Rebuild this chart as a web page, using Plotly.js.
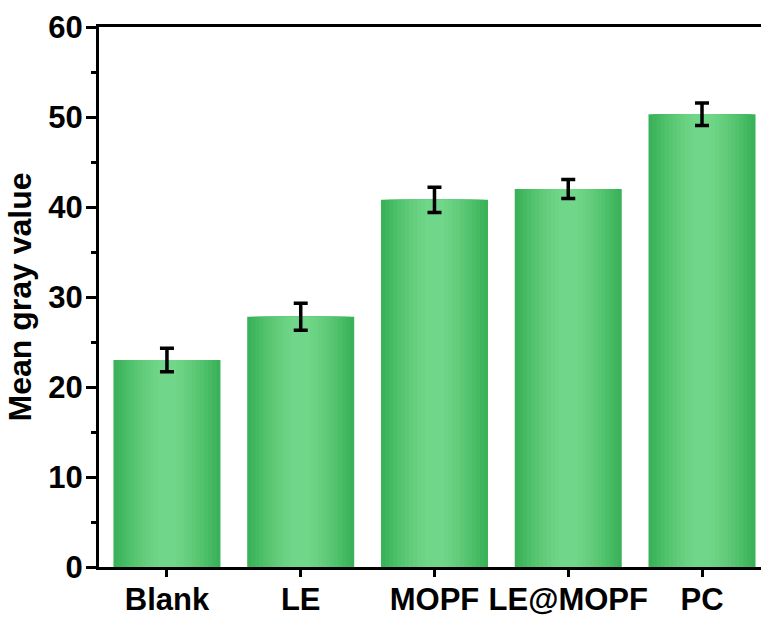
<!DOCTYPE html>
<html>
<head>
<meta charset="utf-8">
<script src="https://cdn.plot.ly/plotly-3.0.1.min.js"></script>
<style>html,body{margin:0;padding:0;background:#fff;overflow:hidden;}</style>
</head>
<body>
<div id="chart" style="width:761px;height:617px;"></div>
<script>
const categories = ["Blank", "LE", "MOPF", "LE@MOPF", "PC"];
const meanGray = [23.0, 27.8, 40.8, 42.0, 50.3];
const errorSD = [1.3, 1.5, 1.4, 1.05, 1.25];
const yTickVals = [0, 10, 20, 30, 40, 50, 60];

// shading layers to mimic the cylindrical gradient of the bars (outer -> inner)
const layerWidths = [0.8, 0.74, 0.68, 0.62, 0.56, 0.50, 0.44, 0.38, 0.32, 0.26, 0.20, 0.14];
const layerColors = ["#3ab25a", "#3fb65e", "#45ba63", "#4bbe68", "#51c26d", "#57c572", "#5dc977", "#62cc7b", "#66cf7f", "#6ad283", "#6dd486", "#70d689"];

const xIdx = categories.map((c, i) => i);
const traces = layerWidths.map((w, k) => ({
  type: "bar",
  x: xIdx,
  y: meanGray,
  width: w,
  marker: {color: layerColors[k], line: {width: 0}},
  hoverinfo: "skip",
  showlegend: false
}));
traces.push({
  type: "scatter",
  mode: "markers",
  x: xIdx,
  y: meanGray,
  marker: {size: 1, color: "rgba(0,0,0,0)"},
  error_y: {type: "data", array: errorSD, visible: true, color: "#000", thickness: 3.5, width: 7},
  showlegend: false,
  hoverinfo: "skip"
});

const fam = "Arial, 'Liberation Sans', sans-serif";
const tickFont = {family: fam, size: 31, color: "#000", weight: "bold"};

const layout = {
  width: 761, height: 617,
  margin: {l: 99, r: 0, t: 27, b: 50},
  paper_bgcolor: "#fff", plot_bgcolor: "#fff",
  barmode: "overlay",
  xaxis: {
    range: [-0.508, 4.441],
    tickmode: "array", tickvals: xIdx, ticktext: categories,
    showline: true, mirror: true, linecolor: "#000", linewidth: 3,
    ticks: "outside", ticklen: 7, tickwidth: 3, tickcolor: "#000",
    ticklabelstandoff: -4,
    showgrid: false, zeroline: false,
    automargin: false,
    tickfont: tickFont
  },
  yaxis: {
    range: [0, 60],
    tickmode: "array", tickvals: yTickVals,
    showline: true, mirror: false, linecolor: "#000", linewidth: 3,
    ticks: "outside", ticklen: 10, tickwidth: 3, tickcolor: "#000",
    ticklabelstandoff: -3,
    minor: {dtick: 5, ticks: "outside", ticklen: 5, tickwidth: 3, tickcolor: "#000", showgrid: false},
    showgrid: false, zeroline: false,
    automargin: true,
    tickfont: tickFont,
    title: {text: "Mean gray value", standoff: 8, font: {family: fam, size: 32, color: "#000", weight: "bold"}}
  }
};

Plotly.newPlot("chart", traces, layout, {staticPlot: true, displayModeBar: false});
</script>
</body>
</html>
